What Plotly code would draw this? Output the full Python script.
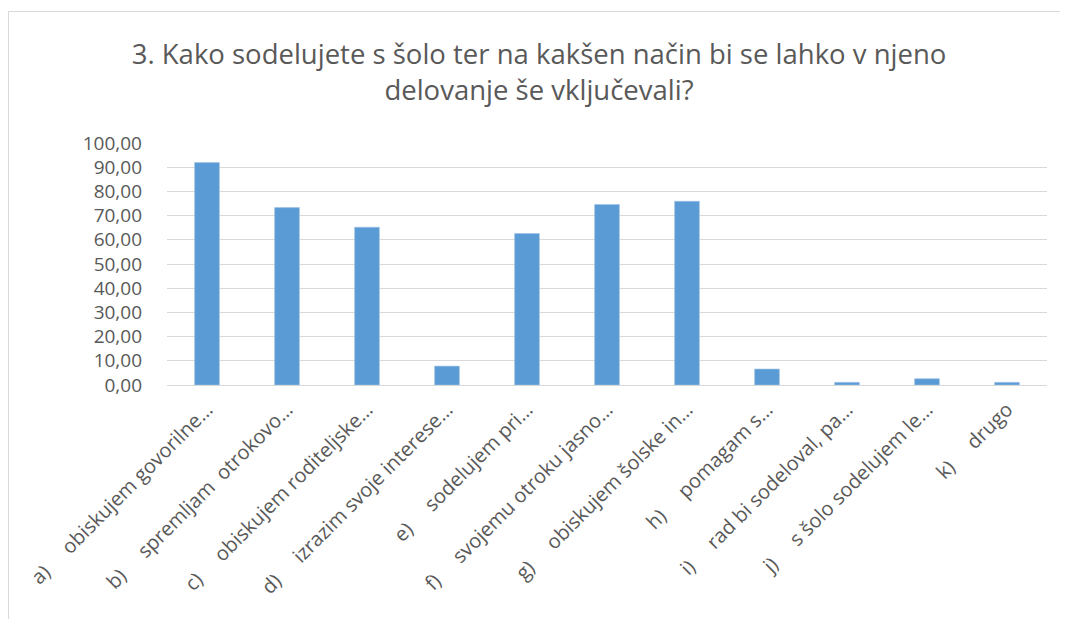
import plotly.graph_objects as go

W, H = 1068, 619
OFF = 8  # the page body margin shifts the figure by 8 px
# plot area in page pixels: x 167..1047, y 143..385
ML = 167 - OFF
MT = 143 - OFF
MR = W - (1047 - OFF)
MB = H - (385 - OFF)

letters = ["a)", "b)", "c)", "d)", "e)", "f)", "g)", "h)", "i)", "j)", "k)"]
texts = [
    "obiskujem govorilne…",
    "spremljam  otrokovo…",
    "obiskujem roditeljske…",
    "izrazim svoje interese…",
    "sodelujem pri…",
    "svojemu otroku jasno…",
    "obiskujem šolske in…",
    "pomagam s…",
    "rad bi sodeloval, pa…",
    "s šolo sodelujem le…",
    "drugo",
]
values = [91.9, 73.3, 65.2, 7.8, 62.6, 74.6, 75.9, 6.6, 1.1, 2.6, 1.1]
y_tick_vals = [0, 10, 20, 30, 40, 50, 60, 70, 80, 90, 100]
y_tick_labels = ["0,00", "10,00", "20,00", "30,00", "40,00", "50,00",
                 "60,00", "70,00", "80,00", "90,00", "100,00"]

GAP = "\u00a0" * 5
categories = [f"{l}{GAP}{t.replace('  ', chr(160) * 2)}" for l, t in zip(letters, texts)]

FONT = "Open Sans, Carlito, Calibri, sans-serif"
GREY = "#595959"

fig = go.Figure(go.Bar(
    x=categories, y=values,
    marker=dict(color="#5b9bd5", line=dict(color="#9dc3e6", width=0.6)),
    width=0.31,
))

pw = W - ML - MR
ph = H - MT - MB
def px_x(x_page):
    return (x_page - OFF - ML) / pw
def px_y(y_page):
    return (H - MB - (y_page - OFF)) / ph

fig.update_layout(
    width=W, height=H,
    margin=dict(l=ML, r=MR, t=MT, b=MB, autoexpand=False),
    paper_bgcolor="white", plot_bgcolor="white",
    showlegend=False,
    title=dict(
        text="3. Kako sodelujete s šolo ter na kakšen način bi se lahko v njeno<br>delovanje še vključevali?",
        x=px_x(539), xanchor="center", xref="paper",
        y=1 - 56 / H, yanchor="top", yref="container",
        font=dict(family=FONT, size=27.5, color=GREY),
    ),
    xaxis=dict(
        tickangle=-45,
        tickfont=dict(family=FONT, size=20, color=GREY),
        showline=True, linecolor="#d9d9d9", linewidth=1,
        ticks="", showgrid=False, automargin=False,
        ticklabelstandoff=4,
    ),
    yaxis=dict(
        range=[0, 100],
        tickvals=y_tick_vals, ticktext=y_tick_labels,
        tickfont=dict(family=FONT, size=19, color=GREY),
        showgrid=True, gridcolor="#d9d9d9", gridwidth=1,
        zeroline=False, showline=False, ticks="",
        ticklabelstandoff=24, automargin=False,
    ),
    shapes=[dict(
        type="rect", xref="paper", yref="paper",
        x0=px_x(8.5), x1=px_x(1090), y0=px_y(11.5), y1=px_y(650),
        line=dict(color="#d9d9d9", width=1), fillcolor="rgba(0,0,0,0)",
        layer="below",
    )],
)

fig.write_html("out.html")
